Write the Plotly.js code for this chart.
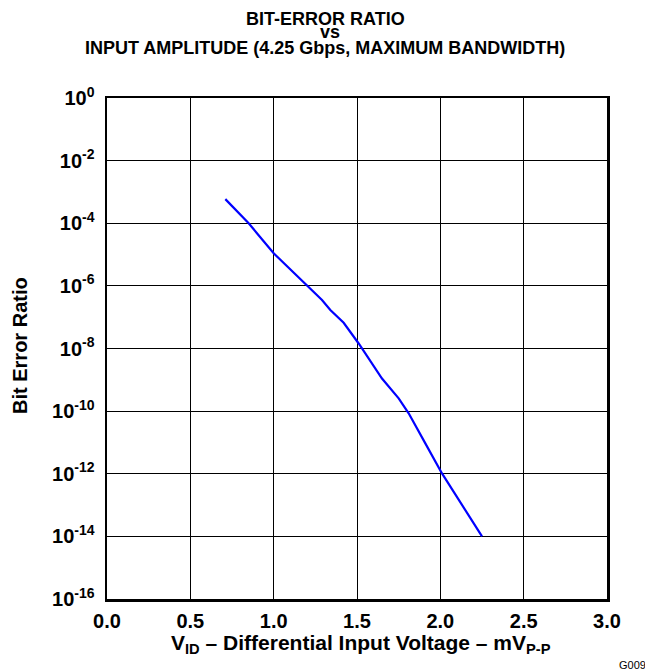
<!DOCTYPE html>
<html><head><meta charset="utf-8">
<script src="https://cdn.plot.ly/plotly-3.0.1.min.js"></script>
<style>html,body{margin:0;padding:0;background:#fff}</style>
</head><body>
<div id="chart" style="width:645px;height:671px"></div>
<script>
const vid = [0.71, 0.85, 1.0, 1.16, 1.22, 1.29, 1.34, 1.42, 1.51, 1.58, 1.65, 1.75, 1.81, 1.91, 2.01, 2.25];
const berExp = [-3.23, -4.0, -4.96, -5.78, -6.08, -6.45, -6.77, -7.18, -7.84, -8.42, -8.96, -9.59, -10.07, -11.03, -11.99, -14.0];
const yTickVals = [1, 1e-2, 1e-4, 1e-6, 1e-8, 1e-10, 1e-12, 1e-14, 1e-16];
const yTickText = ['10<sup>0</sup>','10<sup>-2</sup>','10<sup>-4</sup>','10<sup>-6</sup>','10<sup>-8</sup>','10<sup>-10</sup>','10<sup>-12</sup>','10<sup>-14</sup>','10<sup>-16</sup>'];
const xTickVals = [0, 0.5, 1.0, 1.5, 2.0, 2.5, 3.0];
const xTickText = ['0.0','0.5','1.0','1.5','2.0','2.5','3.0'];
const ber = berExp.map(e => Math.pow(10, e));

const F = 'Liberation Sans, Arial, sans-serif';
const trace = {x: vid, y: ber, type: 'scatter', mode: 'lines', line: {color: '#0000FF', width: 2.2}, hoverinfo: 'skip'};
const layout = {
  width: 645, height: 671,
  margin: {l: 107, r: 38, t: 98, b: 72},
  paper_bgcolor: '#fff', plot_bgcolor: '#fff',
  showlegend: false,
  font: {family: F, color: '#000'},
  xaxis: {range: [0, 3], tickvals: xTickVals, ticktext: xTickText, showgrid: true, gridcolor: '#000', gridwidth: 1,
    showline: true, linecolor: '#000', linewidth: 2.5, mirror: true, zeroline: false, ticks: '',
    ticklabelstandoff: 2, tickfont: {family: F, size: 20, weight: 'bold', color: '#000'}},
  yaxis: {type: 'log', range: [-16, 0], tickvals: yTickVals, ticktext: yTickText, showgrid: true, gridcolor: '#000', gridwidth: 1,
    showline: true, linecolor: '#000', linewidth: 2.5, mirror: true, zeroline: false, ticks: '',
    ticklabelstandoff: 6, tickfont: {family: F, size: 20, weight: 'bold', color: '#000'}},
  annotations: [
    {text: 'BIT-ERROR RATIO', xref: 'paper', yref: 'paper', x: 0.5, y: 1, xshift: -32, yshift: 79.5, xanchor: 'center', yanchor: 'middle', showarrow: false,
      font: {family: F, size: 18, weight: 'bold', color: '#000'}},
    {text: 'vs', xref: 'paper', yref: 'paper', x: 0.5, y: 1, xshift: -27, yshift: 66, xanchor: 'center', yanchor: 'middle', showarrow: false,
      font: {family: F, size: 18, weight: 'bold', color: '#000'}},
    {text: 'INPUT AMPLITUDE (4.25 Gbps, MAXIMUM BANDWIDTH)', xref: 'paper', yref: 'paper', x: 0.5, y: 1, xshift: -32, yshift: 50.5, xanchor: 'center', yanchor: 'middle', showarrow: false,
      font: {family: F, size: 18, weight: 'bold', color: '#000'}},
    {text: 'V<sub>ID</sub> – Differential Input Voltage – mV<sub>P-P</sub>', xref: 'paper', yref: 'paper', x: 0.124, y: 0, yshift: -45, xanchor: 'left', yanchor: 'middle', showarrow: false,
      font: {family: F, size: 21, weight: 'bold', color: '#000'}},
    {text: 'Bit Error Ratio', xref: 'paper', yref: 'paper', x: 0, y: 0.505, xshift: -87, xanchor: 'center', yanchor: 'middle', textangle: -90, showarrow: false,
      font: {family: F, size: 20, weight: 'bold', color: '#000'}},
    {text: 'G009', xref: 'paper', yref: 'paper', x: 1, y: 0, xshift: 10, yshift: -66, xanchor: 'left', yanchor: 'middle', showarrow: false,
      font: {family: F, size: 11, color: '#000'}}
  ]
};
Plotly.newPlot('chart', [trace], layout, {displayModeBar: false, staticPlot: true});
</script>
</body></html>
